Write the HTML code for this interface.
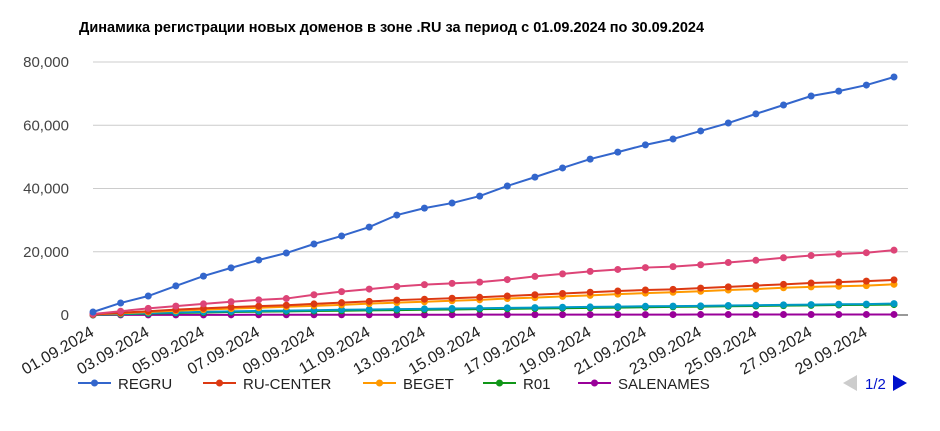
<!DOCTYPE html>
<html><head><meta charset="utf-8">
<style>
body{margin:0;background:#fff;width:940px;height:426px;overflow:hidden;font-family:"Liberation Sans",Arial,sans-serif;}
</style></head>
<body>
<svg id="chart" width="940" height="426" xmlns="http://www.w3.org/2000/svg" font-family="Liberation Sans, Arial, sans-serif">
<text x="79" y="32" font-size="14.5" font-weight="bold" fill="#000">Динамика регистрации новых доменов в зоне .RU за период с 01.09.2024 по 30.09.2024</text>
<g id="grid"></g><g id="series"></g><g id="xlabels"></g>
<g id="legend"></g>
<g>
<polygon points="843,383 857,375 857,391" fill="#ccc"/>
<text x="865" y="389" font-size="15" fill="#0011cc">1/2</text>
<polygon points="893,375 907,383 893,391" fill="#0011cc"/>
</g>
</svg>
<script>
const days = Array.from({length:30},(_,i)=>String(i+1).padStart(2,'0')+'.09.2024');
const yTicks = [0,20000,40000,60000,80000];
const regru = [950,3800,6000,9200,12300,14900,17400,19600,22450,25000,27800,31600,33800,35400,37600,40800,43600,46500,49300,51500,53800,55650,58200,60700,63600,66400,69250,70800,72700,75260];
const rucenter = [200,700,1200,1700,2100,2500,2800,3100,3500,3900,4300,4700,5000,5300,5600,6000,6400,6800,7200,7600,7900,8100,8500,8900,9300,9700,10100,10400,10700,11100];
const beget = [150,550,950,1350,1700,2000,2300,2600,2900,3200,3600,3900,4200,4500,4800,5200,5500,5900,6200,6600,6900,7200,7500,7900,8200,8600,8900,9100,9300,9700];
const r01 = [50,250,450,650,800,950,1050,1150,1250,1350,1450,1550,1650,1750,1850,1950,2050,2150,2250,2350,2450,2550,2650,2750,2850,2950,3050,3150,3200,3300];
const salenames = [10,20,30,40,50,55,60,65,70,75,80,85,90,95,100,105,110,115,120,125,130,135,140,145,150,155,160,165,170,175];
const series6 = [300,1200,2100,2800,3500,4200,4800,5200,6400,7400,8200,9000,9600,10000,10400,11200,12200,13000,13800,14400,15000,15300,15900,16600,17300,18100,18800,19300,19700,20500];
const series7 = [100,350,600,800,1000,1150,1300,1400,1500,1650,1750,1850,1950,2050,2150,2250,2350,2450,2550,2650,2750,2800,2900,3000,3100,3200,3300,3400,3450,3600];
const legendNames = ['REGRU','RU-CENTER','BEGET','R01','SALENAMES'];

const X0=93,X1=894,Y0=315,Y1=62,YMAX=80000;
const xs=i=>X0+(X1-X0)*i/(days.length-1);
const ys=v=>Y0-(Y0-Y1)*v/YMAX;
const NS='http://www.w3.org/2000/svg';
function mk(t,a,p){const e=document.createElementNS(NS,t);for(const k in a)e.setAttribute(k,a[k]);p.appendChild(e);return e;}
const grid=document.getElementById('grid');
yTicks.forEach(v=>{
  const l=mk('line',{x1:X0,x2:X1+14,y1:ys(v),y2:ys(v),stroke:v===0?'#333':'#ccc','stroke-width':1},grid);
  
  
  const t=mk('text',{x:69,y:ys(v)+5,'text-anchor':'end','font-size':15,fill:'#444'},grid);
  t.textContent=v.toLocaleString('en-US');
  
  
});
const xl=document.getElementById('xlabels');
days.forEach((d,i)=>{ if(i%2) return;
  const px=xs(i)+2, py=335;
  const t=mk('text',{x:px,y:py,'text-anchor':'end','font-size':16,fill:'#222',transform:`rotate(-30 ${px} ${py})`},xl);
  t.textContent=d;
  
  
});
const all=[[salenames,'#990099','salenames'],[r01,'#109618','r01'],[series7,'#0099c6','series-7'],[beget,'#ff9900','beget'],[rucenter,'#dc3912','ru-center'],[series6,'#dd4477','series-6'],[regru,'#3366cc','regru']];
const sg=document.getElementById('series');
all.forEach(([arr,c,n])=>{
  const g=mk('g',{},sg);
  
  
  mk('polyline',{points:arr.map((v,i)=>xs(i)+','+ys(v)).join(' '),fill:'none',stroke:c,'stroke-width':2},g);
  arr.forEach((v,i)=>{
    const p=mk('circle',{cx:xs(i),cy:ys(v),r:3.5,fill:c},g);
    
    
  });
});
const lg=document.getElementById('legend');
const lcols=['#3366cc','#dc3912','#ff9900','#109618','#990099'];
const lx=[78,203,363,483,578];
legendNames.forEach((n,i)=>{
  const g=mk('g',{},lg);
  
  
  mk('line',{x1:lx[i],x2:lx[i]+33,y1:383,y2:383,stroke:lcols[i],'stroke-width':2},g);
  mk('circle',{cx:lx[i]+16.5,cy:383,r:3.5,fill:lcols[i]},g);
  const t=mk('text',{x:lx[i]+40,y:389,'font-size':15,fill:'#222'},g);
  t.textContent=n;
});
</script>
</body></html>
